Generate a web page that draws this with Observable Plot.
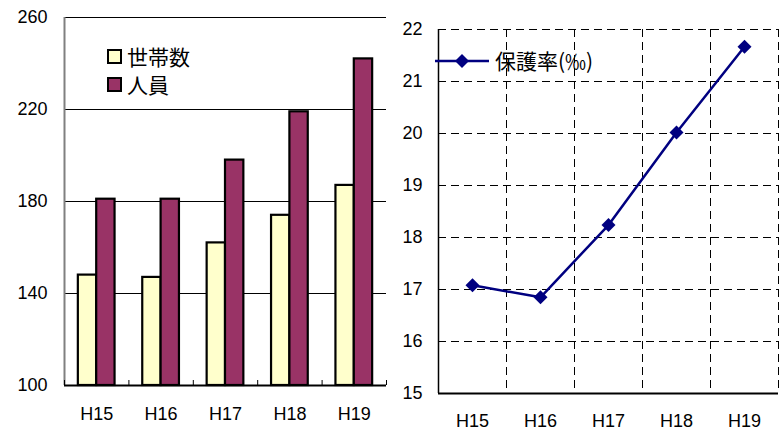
<!DOCTYPE html>
<html><head><meta charset="utf-8">
<script src="https://cdn.jsdelivr.net/npm/d3@7"></script>
<script src="https://cdn.jsdelivr.net/npm/@observablehq/plot@0.6"></script>
<style>
body{margin:0;background:#fff;}
#wrap{position:relative;width:784px;height:435px;overflow:hidden;background:#fff;}
#left,#right{position:absolute;top:0;}
#left{left:0}
#right{left:392px}
.lg{position:absolute;font-family:"Noto Sans CJK JP",sans-serif;font-size:21px;line-height:21px;display:flex;align-items:center;color:#000;white-space:nowrap;}
.sw{display:inline-block;width:11px;height:11px;border:2px solid #000;margin-right:5px;}
</style></head><body>
<div id="wrap">
  <div id="left"></div>
  <div id="right"></div>
  <div class="lg" style="left:107px;top:46px"><span class="sw" style="background:#FFFFCC"></span>世帯数</div>
  <div class="lg" style="left:107px;top:74px"><span class="sw" style="background:#993366"></span>人員</div>
  <div class="lg" style="left:435px;top:50px"><svg width="56" height="20" style="margin-right:4px"><line x1="0" y1="10" x2="54" y2="10" stroke="#000080" stroke-width="2.5"/><path d="M27,3 L34,10 L27,17 L20,10 Z" fill="#000080"/></svg>保護率(‰)</div>
</div>
<script>
const years = ["H15","H16","H17","H18","H19"];
const households = [148,147,162,174,187];
const persons = [181,181,198,219,242];
const rate = [17.08,16.85,18.24,20.02,21.67];
const barTicks = [100,140,180,220,260];
const rateTicks = [15,16,17,18,19,20,21,22];

const idx = years.map((_, i) => i);
const bounds = [-0.5, ...idx.map(i => i + 0.5)];
const bw = 0.285;
const bars = [
  ...years.map((y, i) => ({i, series: "世帯数", value: households[i], x1: i - bw, x2: i})),
  ...years.map((y, i) => ({i, series: "人員", value: persons[i], x1: i, x2: i + bw}))
];
const ff = "'Liberation Sans', Arial, sans-serif";
const fs = 18;
const font = {fontFamily: ff, fontSize: "18px", background: "white", overflow: "visible"};

const left = Plot.plot({
  width: 392, height: 435,
  marginLeft: 64, marginRight: 6, marginTop: 17, marginBottom: 50,
  style: font,
  x: {domain: [-0.5, 4.5], axis: null},
  y: {domain: [100, 260], axis: null},
  marks: [
    Plot.ruleY(barTicks.slice(1), {stroke: "#000", strokeWidth: 1}),
    Plot.rectY(bars, {x1: "x1", x2: "x2", y1: 100, y2: "value",
      fill: d => d.series === "世帯数" ? "#FFFFCC" : "#993366", stroke: "#000", strokeWidth: 2.2}),
    Plot.ruleX([-0.5], {stroke: "#808080", strokeWidth: 2}),
    Plot.ruleY([100], {stroke: "#000", strokeWidth: 2}),
    Plot.axisX({ticks: bounds, tickSize: 5, dy: -5, tickFormat: () => "", stroke: "#000", label: null}),
    Plot.axisX({ticks: idx, tickSize: 0, tickPadding: 22, tickFormat: i => years[i], fill: "#000", fontSize: fs, fontFamily: ff, label: null}),
    Plot.axisY({ticks: barTicks, tickSize: 0, tickPadding: 17, fill: "#000", fontSize: fs, fontFamily: ff, label: null, tickFormat: d => String(d)})
  ]
});
document.getElementById("left").append(left);

const right = Plot.plot({
  width: 392, height: 435,
  marginLeft: 46, marginRight: 6, marginTop: 29, marginBottom: 42,
  style: font,
  x: {domain: [-0.5, 4.5], axis: null},
  y: {domain: [15, 22], axis: null},
  marks: [
    Plot.ruleY(rateTicks.slice(1), {stroke: "#000", strokeWidth: 1, strokeDasharray: "8,5"}),
    Plot.ruleX(bounds.slice(1), {stroke: "#000", strokeWidth: 1, strokeDasharray: "8,5"}),
    Plot.ruleX([-0.5], {stroke: "#000", strokeWidth: 1.5}),
    Plot.ruleY([15], {stroke: "#000", strokeWidth: 2}),
    Plot.line(idx, {x: i => i, y: i => rate[i], stroke: "#000080", strokeWidth: 2.5}),
    Plot.dot(idx, {x: i => i, y: i => rate[i], symbol: "diamond2", r: 6.3, fill: "#000080", stroke: "none"}),
    Plot.axisX({ticks: idx, tickSize: 0, tickPadding: 21, tickFormat: i => years[i], fill: "#000", fontSize: fs, fontFamily: ff, label: null}),
    Plot.axisY({ticks: rateTicks, tickSize: 0, tickPadding: 16, tickFormat: d => String(d), fill: "#000", fontSize: fs, fontFamily: ff, label: null})
  ]
});
document.getElementById("right").append(right);
</script>
</body></html>
